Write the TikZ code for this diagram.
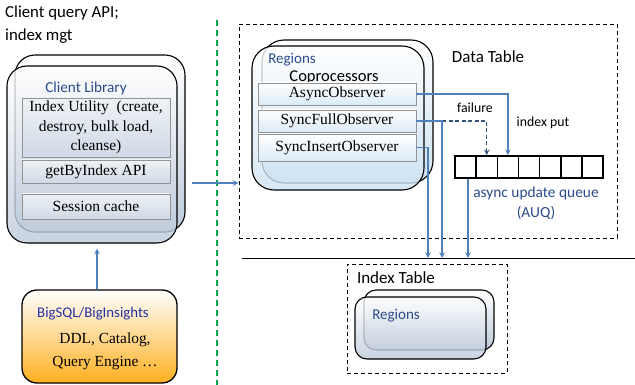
\documentclass[tikz,border=0pt]{standalone}
\usepackage{fontspec}
\setmainfont{Liberation Serif}
\newfontfamily\calibri{Carlito}
\tikzset{>=stealth}
\definecolor{arrowblue}{HTML}{4F81BD}
\definecolor{failblue}{HTML}{34527A}
\definecolor{textblue}{HTML}{2A4C8C}
\definecolor{bigblue}{HTML}{2331A8}
\definecolor{cardblue}{HTML}{CDE2F2}
\definecolor{cardgray}{HTML}{BCC9DA}
\definecolor{boxtop}{HTML}{EEF2F6}
\definecolor{boxbot}{HTML}{D0D9E5}
\definecolor{sqlorange}{HTML}{FFB020}
\definecolor{splitgreen}{HTML}{00A650}
\tikzset{
  card/.style={draw, line width=1.1pt, rounded corners=#1, inner sep=0pt, top color=white},
  compbox/.style={draw=gray!85, line width=0.8pt, inner sep=0pt, top color=boxtop, bottom color=boxbot,
    font=\fontsize{15.5}{19.5}\selectfont, align=center},
  tablebox/.style={draw, line width=0.9pt, dash pattern=on 4pt off 3pt, inner sep=0pt},
  qcell/.style={draw, line width=1.6pt, minimum width=21.15pt, minimum height=22pt, inner sep=0pt},
  lbl/.style={font=\calibri\fontsize{#1}{20}\selectfont, inner sep=0pt},
  flow/.style={->, draw=arrowblue, line width=1.5pt},
}

\begin{document}
\begin{tikzpicture}[x=1pt, y=-1pt]
    \useasboundingbox (0,0) rectangle (635,385);

    % client side
    \node[lbl=16.8, anchor=north west, align=left, font=\calibri\fontsize{16.8}{23}\selectfont] (clienttxt) at (5,6) {Client query API;\\index mgt};
    \node[card=20pt, bottom color=cardgray, minimum width=170pt, minimum height=177pt] (clientback) at (100,143.5) {};
    \node[card=20pt, bottom color=cardgray, fill opacity=0.8, minimum width=170pt, minimum height=177pt] (clientfront) at (92,154.5) {};
    \node[lbl=15.2, text=textblue] (clientlib) at (86,88) {Client Library};
    \node[compbox, minimum width=148pt, minimum height=59pt] (idxutil) at (96,127.5) {Index Utility\ \ (create,\\destroy, bulk load,\\cleanse)};
    \node[compbox, minimum width=148pt, minimum height=23pt] (getidx) at (96,171.5) {getByIndex API};
    \node[compbox, minimum width=148pt, minimum height=25pt] (session) at (96,206.5) {Session cache};

    \node[card=15pt, line width=1.3pt, middle color=sqlorange!22, bottom color=sqlorange, minimum width=155pt, minimum height=93pt] (bigsql) at (99.5,336.5) {};
    \node[lbl=14.8, text=bigblue] (bigsqltxt) at (93,314) {BigSQL/BigInsights};
    \node[align=center, inner sep=0pt, font=\fontsize{15.4}{23}\selectfont] (engine) at (105,351) {DDL, Catalog,\\Query Engine \dots};
    \draw[flow] ([xshift=-2.5pt]bigsql.north) -- ([xshift=-2.5pt,yshift=-5pt]bigsql.north |- clientfront.south);

    % split between client and server
    \coordinate (gtop) at (217,20);
    \coordinate (gbot) at (217,385);
    \draw[splitgreen, line width=1.3pt, dash pattern=on 6pt off 4pt] (gtop) -- (gbot);

    % data table
    \node[tablebox, minimum width=378pt, minimum height=214pt] (datatable) at (428,131) {};
    \node[lbl=17] (dttxt) at (488,57) {Data Table};
    \node[card=22pt, bottom color=cardblue, minimum width=171pt, minimum height=143pt] (regback) at (347.5,111.5) {};
    \node[card=22pt, bottom color=cardblue, fill opacity=0.8, minimum width=172pt, minimum height=144pt] (regfront) at (338,118) {};
    \node[lbl=15, text=textblue] (regtxt) at (292,60) {Regions};
    \node[lbl=16.5] (coproc) at (334,77) {Coprocessors};
    \node[compbox, top color=white, bottom color=cardblue!70, minimum width=158pt, minimum height=22pt] (async) at (337,94) {AsyncObserver};
    \node[compbox, top color=white, bottom color=cardblue!70, minimum width=158pt, minimum height=22pt] (syncfull) at (337,121) {SyncFullObserver};
    \node[compbox, top color=white, bottom color=cardblue!70, minimum width=158pt, minimum height=27pt] (syncins) at (337,147.5) {SyncInsertObserver};

    % async update queue
    \foreach \i in {1,...,7}
        \node[qcell] (q\i) at ({455+21.15*(\i-0.5)},167) {};
    \node[lbl=15.4, text=textblue, align=center, font=\calibri\fontsize{15.4}{20}\selectfont] (auq) at (536,203) {async update queue\\(AUQ)};
    \node[lbl=13.8] (failtxt) at (475,108) {failure};
    \node[lbl=13.8] (puttxt) at (543,123) {index put};

    % index table
    \coordinate (sepL) at (242,258);
    \coordinate (sepR) at (635,258);
    \draw[line width=0.9pt] (sepL) -- (sepR);
    \node[tablebox, minimum width=160pt, minimum height=109pt] (indextable) at (427,318.5) {};
    \node[lbl=17] (ittxt) at (396,278) {Index Table};
    \node[card=12pt, bottom color=cardgray, minimum width=130pt, minimum height=60pt] (idxregback) at (429,320) {};
    \node[card=12pt, bottom color=cardgray, fill opacity=0.8, minimum width=131pt, minimum height=62pt] (idxregfront) at (420.5,328) {};
    \node[lbl=15, text=textblue] (idxregtxt) at (396,316) {Regions};

    % flows
    \coordinate (libout) at (192,183);
    \draw[flow] (libout) -- (datatable.west |- libout);
    \coordinate (colins) at (428,258);
    \coordinate (colfull) at (442,258);
    \coordinate (colqueue) at (468,258);
    \draw[flow] (async.east) -| (q3.north);
    \draw[->, draw=failblue, line width=1.5pt, dash pattern=on 4pt off 2.5pt] (colfull |- syncfull.east) -| (q2.north);
    \draw[flow] (syncfull.east) -| (colfull);
    \draw[flow] (syncins.east) -| (colins);
    \draw[flow] (colqueue |- q1.south) -- (colqueue);
\end{tikzpicture}
\end{document}
